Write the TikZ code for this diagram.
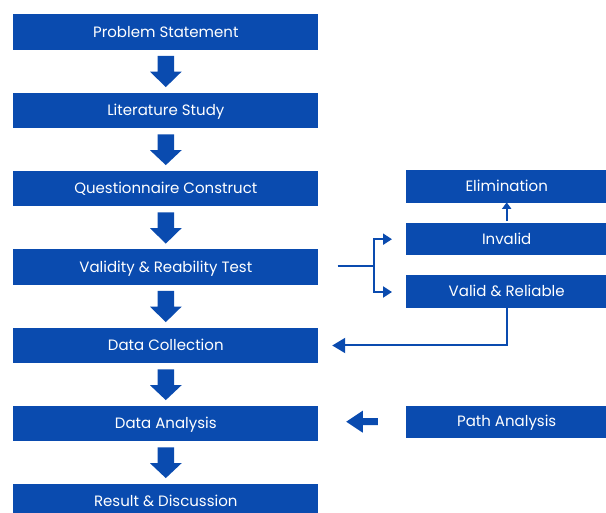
\documentclass[tikz,border=0pt]{standalone}
\usepackage{fontspec}
\setmainfont{Poppins}
\usetikzlibrary{calc,arrows.meta}
\definecolor{mainblue}{RGB}{10,75,175}
\tikzset{
  boxtext/.style={text=white, inner sep=0pt, text height=10.4pt, text depth=0pt, font=\fontsize{15}{17}\selectfont},
  lbox/.style={boxtext, fill=mainblue, minimum width=305pt, minimum height=35.6pt},
  rbox/.style={boxtext, fill=mainblue, minimum width=202pt, minimum height=32.5pt},
  thin/.style={draw=mainblue, line width=2pt},
  blk/.style={fill=mainblue}
}
\newcommand\downblk[2]{%
  \fill[blk] ($(#1.south)+(-8.3,6)$) -- ($(#1.south)+(8.3,6)$) -- ($(#1.south)+(8.3,21.7)$) -- ($(#1.south)+(15.8,21.7)$) -- ($(#2.north)+(0,-5.4)$) -- ($(#1.south)+(-15.8,21.7)$) -- ($(#1.south)+(-8.3,21.7)$) -- cycle;}
\begin{document}
\begin{tikzpicture}[x=1pt,y=-1pt]
\useasboundingbox (0,0) rectangle (606,513);
\node[lbox] (ps) at (165.8,32) {Problem Statement};
\node[lbox] (ls) at (165.8,110.5) {Literature Study};
\node[lbox] (qc) at (165.8,188.5) {Questionnaire Construct};
\node[lbox] (vr) at (165.8,267) {Validity \& Reability Test};
\node[lbox] (dc) at (165.8,345.5) {Data Collection};
\node[lbox] (da) at (165.8,423.5) {Data Analysis};
\node[lbox] (rd) at (165.8,501.5) {Result \& Discussion};
\node[rbox] (el) at (506.7,186.4) {Elimination};
\node[rbox, minimum height=31.7pt] (inv) at (506.7,239.2) {Invalid};
\node[rbox] (vrl) at (506.7,291.4) {Valid \& Reliable};
\node[rbox, minimum height=32pt] (pa) at (506.7,421.7) {Path Analysis};
\downblk{ps}{ls}
\downblk{ls}{qc}
\downblk{qc}{vr}
\downblk{vr}{dc}
\downblk{dc}{da}
\downblk{da}{rd}
% small arrow invalid -> elimination
\draw[thin, -{Triangle[length=6.5pt,width=9pt]}] ($(inv.north)+(0,-2)$) -- ($(el.south)+(0,-0.5)$);
% branch
\coordinate (bs) at ($(vr.east)+(19,-1)$);
\coordinate (bm) at ($(bs)+(36,0)$);
\draw[thin] (bs) -- (bm);
\draw[thin, -{Triangle[length=9pt,width=11pt]}] (bm) |- ($(inv.west)+(-13.5,0)$);
\draw[thin, -{Triangle[length=9pt,width=11pt]}] (bm) |- ($(vrl.west)+(-13.5,0.6)$);
% feedback
\draw[thin, -{Triangle[length=13pt,width=15pt]}] (vrl.south) |- ($(dc.east)+(13.7,0)$);
% path analysis block arrow
\fill[blk] ($(pa.west)+(-27.7,-3.5)$) -- ($(pa.west)+(-42.7,-3.5)$) -- ($(pa.west)+(-42.7,-11)$) -- ($(da.east)+(27.7,-1.8)$) -- ($(pa.west)+(-42.7,11)$) -- ($(pa.west)+(-42.7,3.5)$) -- ($(pa.west)+(-27.7,3.5)$) -- cycle;
\end{tikzpicture}
\end{document}
